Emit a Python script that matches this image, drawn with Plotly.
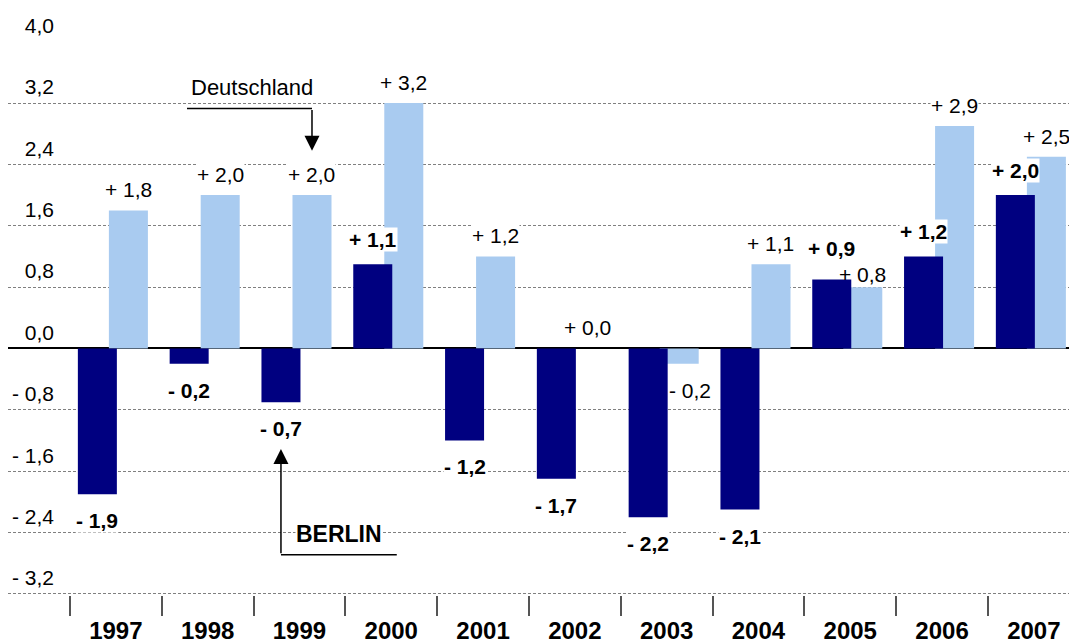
import plotly.graph_objects as go

years = ["1997", "1998", "1999", "2000", "2001", "2002", "2003", "2004", "2005", "2006", "2007"]
berlin = [-1.9, -0.2, -0.7, 1.1, -1.2, -1.7, -2.2, -2.1, 0.9, 1.2, 2.0]
deutschland = [1.8, 2.0, 2.0, 3.2, 1.2, 0.0, -0.2, 1.1, 0.8, 2.9, 2.5]
y_ticks = [-3.2, -2.4, -1.6, -0.8, 0.0, 0.8, 1.6, 2.4, 3.2, 4.0]

FONT = "Liberation Sans, Arial, sans-serif"
BERLIN_COLOR = "#000080"
DE_COLOR = "#A9CBF0"

BAR_W = 0.425
BERLIN_OFF = -0.414
DE_OFF = -0.076


def axis_label(v):
    s = f"{abs(v):.1f}".replace(".", ",")
    return f"- {s}" if v < 0 else s


def value_label(v):
    s = f"{abs(v):.1f}".replace(".", ",")
    return f"- {s}" if v < 0 else f"+ {s}"


fig = go.Figure()

# Deutschland (behind)
fig.add_trace(
    go.Bar(
        x=years,
        y=deutschland,
        name="Deutschland",
        width=BAR_W,
        offset=DE_OFF,
        marker=dict(color=DE_COLOR, line=dict(width=0)),
    )
)

# Berlin (front)
fig.add_trace(
    go.Bar(
        x=years,
        y=berlin,
        name="Berlin",
        width=BAR_W,
        offset=BERLIN_OFF,
        marker=dict(color=BERLIN_COLOR, line=dict(width=0)),
    )
)

annotations = []


def add_value_label(x, v, bold, up_shift, anchor="center", bg="white"):
    text = value_label(v)
    if bold:
        text = f"<b>{text}</b>"
    annotations.append(
        dict(
            x=x,
            y=v,
            xref="x",
            yref="y",
            text=text,
            showarrow=False,
            xanchor=anchor,
            yanchor="bottom" if v >= 0 else "top",
            yshift=up_shift if v >= 0 else -14,
            font=dict(family=FONT, size=21, color="black"),
            bgcolor=bg,
            borderpad=0,
        )
    )


# Value labels; where Berlin tops Deutschland (both positive) the labels are spread apart
for i, (d, b) in enumerate(zip(deutschland, berlin)):
    crowded = d > 0 and b > d
    if d < 0:
        # negative Deutschland label sits right of the Berlin bar
        add_value_label(i + BERLIN_OFF + BAR_W, d, False, 8, anchor="left")
    else:
        add_value_label(i + DE_OFF + BAR_W / 2, d, False, 0 if crowded else 8,
                        bg="rgba(0,0,0,0)" if crowded else "white")
for i, (d, b) in enumerate(zip(deutschland, berlin)):
    crowded = d > 0 and b > d
    add_value_label(i + BERLIN_OFF + BAR_W / 2, b, True, 18 if crowded else 12)

de_x = 2 + DE_OFF + BAR_W / 2
be_x = 2 + BERLIN_OFF + BAR_W / 2

# Deutschland pointer
annotations.append(
    dict(
        x=1.48, y=3.40, xref="x", yref="y",
        text="Deutschland", showarrow=False,
        font=dict(family=FONT, size=22, color="black"),
    )
)
annotations.append(
    dict(
        x=de_x, y=2.58, xref="x", yref="y",
        ax=de_x, ay=3.13, axref="x", ayref="y",
        text="", showarrow=True,
        arrowhead=2, arrowsize=2, arrowwidth=1.5, arrowcolor="black",
    )
)

# BERLIN pointer
annotations.append(
    dict(
        x=2.43, y=-2.42, xref="x", yref="y",
        text="<b>BERLIN</b>", showarrow=False,
        font=dict(family=FONT, size=23, color="black"),
        bgcolor="white", borderpad=0,
    )
)
annotations.append(
    dict(
        x=be_x, y=-1.31, xref="x", yref="y",
        ax=be_x, ay=-2.69, axref="x", ayref="y",
        text="", showarrow=True,
        arrowhead=2, arrowsize=2, arrowwidth=1.5, arrowcolor="black",
    )
)

shapes = [
    dict(type="line", xref="x", yref="y", x0=0.775, x1=de_x, y0=3.13, y1=3.13,
         line=dict(color="black", width=1.5)),
    dict(type="line", xref="x", yref="y", x0=be_x, x1=3.06, y0=-2.69, y1=-2.69,
         line=dict(color="black", width=1.5)),
]

fig.update_layout(
    width=1069,
    height=636,
    margin=dict(l=0, r=0, t=33, b=49),
    plot_bgcolor="white",
    paper_bgcolor="white",
    barmode="overlay",
    showlegend=False,
    font=dict(family=FONT, color="black"),
    annotations=annotations,
    shapes=shapes,
    xaxis=dict(
        type="category",
        range=[-1.175, 10.47],
        tickson="boundaries",
        ticks="outside",
        ticklen=20,
        tickwidth=1.5,
        tickcolor="#555555",
        ticklabelstandoff=19,
        showgrid=False,
        showline=False,
        zeroline=False,
        tickfont=dict(family=FONT, size=24, color="black", weight="bold"),
    ),
    yaxis=dict(
        range=[-3.215, 4.01],
        tickvals=y_ticks,
        ticktext=[axis_label(v) for v in y_ticks],
        anchor="free",
        position=0.043,
        showline=False,
        ticks="",
        ticklabelshift=-16,
        showgrid=True,
        gridcolor="#808080",
        gridwidth=1,
        griddash="3px,2px",
        zeroline=True,
        zerolinecolor="black",
        zerolinewidth=2,
        tickfont=dict(family=FONT, size=21, color="black"),
    ),
)

fig.write_html("out.html")
